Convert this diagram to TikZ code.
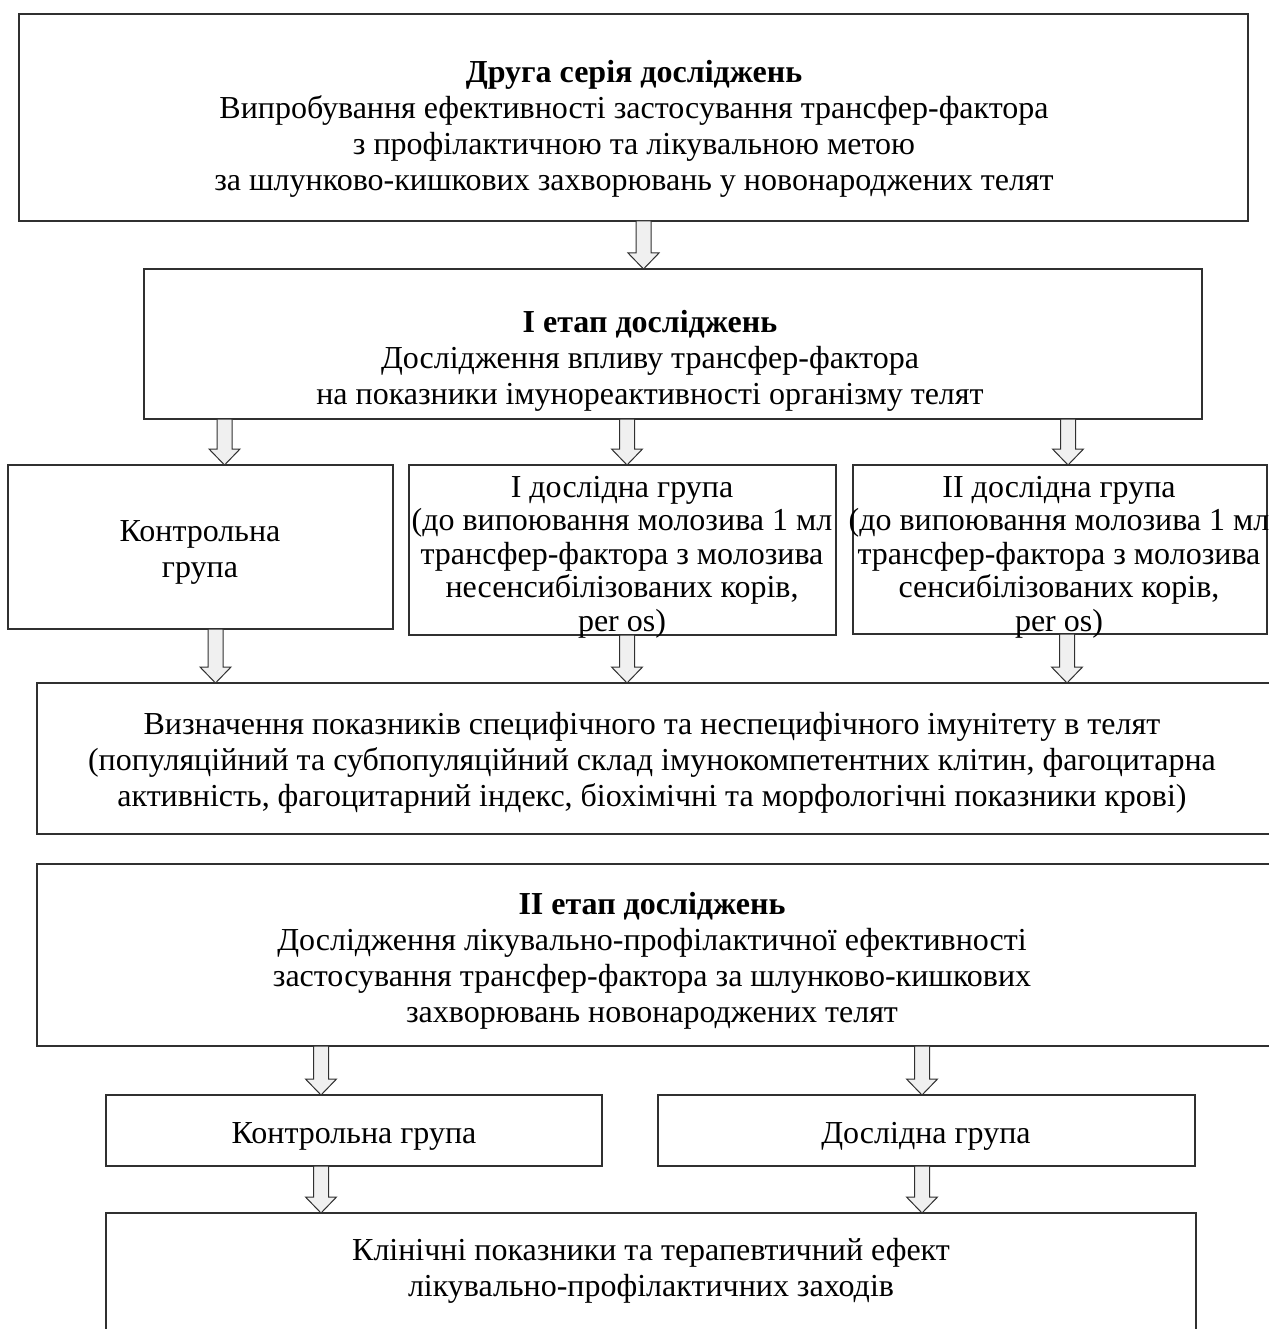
\documentclass[tikz,border=0pt]{standalone}
\usepackage{fontspec}
\setmainfont{Liberation Serif}
\usetikzlibrary{calc}
\definecolor{edge}{HTML}{303030}
\definecolor{arrfill}{HTML}{F0F0F0}
\tikzset{
  box/.style={draw=edge, line width=1.4pt, inner sep=0pt, outer sep=0pt, anchor=north west},
  txt/.style={align=center, font=\fontsize{32}{36}\selectfont, inner sep=0pt},
  gtxt/.style={align=center, font=\fontsize{32}{33.5}\selectfont, inner sep=0pt},
  fatarrow/.style={draw=edge, line width=1pt, fill=arrfill, line join=miter},
}
\newcommand\fatarr[2]{%
  \draw[fatarrow] let \p1=(#1), \p2=(#2) in
  (\x1-7.5pt,\y1) -- (\x1+7.5pt,\y1) -- (\x1+7.5pt,\y2+16pt) -- (\x1+15.5pt,\y2+16pt)
  -- (\x1,\y2) -- (\x1-15.5pt,\y2+16pt) -- (\x1-7.5pt,\y2+16pt) -- cycle;}
\begin{document}
\begin{tikzpicture}[x=1pt,y=-1pt]
\useasboundingbox (0,0) rectangle (1268,1329);
% boxes
\node[box, minimum width=1229pt, minimum height=207pt] (top) at (19,14) {};
\node[box, minimum width=1058pt, minimum height=150pt] (s1) at (144,269) {};
\node[box, minimum width=385pt, minimum height=164pt] (ctrl) at (8,465) {};
\node[box, minimum width=427pt, minimum height=170pt] (g1) at (409,465) {};
\node[box, minimum width=414pt, minimum height=169pt] (g2) at (853,465) {};
\node[box, minimum width=1260pt, minimum height=151pt] (det) at (37,683) {};
\node[box, minimum width=1260pt, minimum height=182pt] (s2) at (37,864) {};
\node[box, minimum width=496pt, minimum height=71pt] (c2) at (106,1095) {};
\node[box, minimum width=537pt, minimum height=71pt] (d2) at (658,1095) {};
\node[box, minimum width=1090pt, minimum height=140pt] (fin) at (106,1213) {};
% texts
\node[txt] (topt) at (634,129) {\textbf{Друга серія досліджень}\\Випробування ефективності застосування трансфер-фактора\\з профілактичною та лікувальною метою\\за шлунково-кишкових захворювань у новонароджених телят};
\node[txt] (s1t) at (650,360.5) {\textbf{І етап досліджень}\\Дослідження впливу трансфер-фактора\\на показники імунореактивності організму телят};
\node[txt] (ctrlt) at (200,552) {Контрольна\\група};
\node[gtxt] (g1t) at (622,557) {І дослідна група\\(до випоювання молозива 1 мл\\трансфер-фактора з молозива\\несенсибілізованих корів,\\per os)};
\node[gtxt] (g2t) at (1059,557) {ІІ дослідна група\\(до випоювання молозива 1 мл\\трансфер-фактора з молозива\\сенсибілізованих корів,\\per os)};
\node[txt] (dett) at (652,762.5) {Визначення показників специфічного та неспецифічного імунітету в телят\\(популяційний та субпопуляційний склад імунокомпетентних клітин, фагоцитарна\\активність, фагоцитарний індекс, біохімічні та морфологічні показники крові)};
\node[txt] (s2t) at (652,961) {\textbf{ІІ етап досліджень}\\Дослідження лікувально-профілактичної ефективності\\застосування трансфер-фактора за шлунково-кишкових\\захворювань новонароджених телят};
\node[txt] (c2t) at (354,1136) {Контрольна група};
\node[txt] (d2t) at (926,1136) {Дослідна група};
\node[txt] (fint) at (651,1271) {Клінічні показники та терапевтичний ефект\\лікувально-профілактичних заходів};
% arrow columns
\coordinate (xa) at (643.5,0);
\coordinate (xb) at (224.5,0);
\coordinate (xc) at (627,0);
\coordinate (xd) at (1068,0);
\coordinate (xe) at (215.5,0);
\coordinate (xf) at (1067,0);
\coordinate (xg) at (321,0);
\coordinate (xh) at (922,0);
\fatarr{top.south -| xa}{s1.north -| xa}
\fatarr{s1.south -| xb}{ctrl.north -| xb}
\fatarr{s1.south -| xc}{g1.north -| xc}
\fatarr{s1.south -| xd}{g2.north -| xd}
\fatarr{ctrl.south -| xe}{det.north -| xe}
\fatarr{g1.south -| xc}{det.north -| xc}
\fatarr{g2.south -| xf}{det.north -| xf}
\fatarr{s2.south -| xg}{c2.north -| xg}
\fatarr{s2.south -| xh}{d2.north -| xh}
\fatarr{c2.south -| xg}{fin.north -| xg}
\fatarr{d2.south -| xh}{fin.north -| xh}
\end{tikzpicture}
\end{document}
